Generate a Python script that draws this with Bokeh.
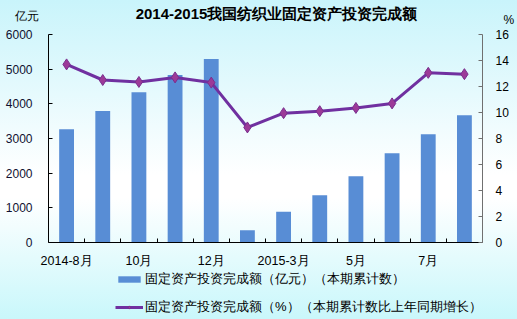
from bokeh.plotting import figure
from bokeh.models import Range1d, LinearAxis, FixedTicker, Legend, LegendItem, Label
from bokeh.embed import file_html
from bokeh.resources import INLINE

# ---- data ----
months = ["2014-8月", "2014-9月", "2014-10月", "2014-11月", "2014-12月", "2015-2月",
          "2015-3月", "2015-4月", "2015-5月", "2015-6月", "2015-7月", "2015-8月"]
invest = [3270, 3790, 4335, 4830, 5290, 355, 885, 1365, 1910, 2575, 3125, 3670]
growth = [13.7, 12.5, 12.35, 12.7, 12.3, 8.85, 9.95, 10.1, 10.35, 10.7, 13.05, 12.95]
tick_idx = [0, 2, 4, 6, 8, 10]
tick_labels = ["2014-8月", "10月", "12月", "2015-3月", "5月", "7月"]
left_ticks = [0, 1000, 2000, 3000, 4000, 5000, 6000]
right_ticks = [0, 2, 4, 6, 8, 10, 12, 14, 16]
title_text = "2014-2015我国纺织业固定资产投资完成额"
bar_label = "固定资产投资完成额（亿元）（本期累计数）"
line_label = "固定资产投资完成额（%）（本期累计数比上年同期增长）"

FONT = "Liberation Sans"
n = len(months)
xs = list(range(n))

# ---- layout (pixels); the frame fills the whole canvas, axes sit at fixed places ----
W, H = 517, 319
AX_LEFT, AX_RIGHT = 48, 482           # pixel columns of the two value axes
AX_TOP, AX_BOTTOM = 34, 242           # pixel rows of the axis maximum and zero
cat_w = (AX_RIGHT - AX_LEFT) / n
axis_h = AX_BOTTOM - AX_TOP
x_lo, x_hi = -0.5, n - 0.5


def ext_range(top):
    return Range1d(-top * (H - AX_BOTTOM) / axis_h, top * (1 + AX_TOP / axis_h))


p = figure(width=W, height=H,
           x_range=Range1d(x_lo - AX_LEFT / cat_w, x_hi + (W - AX_RIGHT) / cat_w),
           y_range=ext_range(left_ticks[-1]), output_backend="svg", toolbar_location=None,
           min_border_left=0, min_border_right=0, min_border_top=0, min_border_bottom=0)
p.extra_y_ranges = {"pct": ext_range(right_ticks[-1])}

p.background_fill_color = None
p.border_fill_color = None
p.outline_line_color = None
p.styles = {"background": "linear-gradient(180deg, #c9f4fb 0%, #ffffff 55%, #ffffff 62%, #c9f7fb 100%)"}
p.xgrid.visible = False
p.ygrid.visible = False

bars = p.vbar(x=xs, top=invest, width=0.41, fill_color="#588dd5", line_color=None)
ln = p.line(x=xs, y=growth, y_range_name="pct", line_color="#7030a0", line_width=3)
pts = p.scatter(x=xs, y=growth, y_range_name="pct", marker="diamond", size=11,
                fill_color="#9c3a98", line_color="#7a2e8e", line_width=1)

# x axis, drawn at value zero
xa = p.xaxis[0]
xa.fixed_location = 0
xa.bounds = (x_lo, x_hi)
xa.ticker = FixedTicker(ticks=tick_idx, minor_ticks=[i + 0.5 for i in range(n - 1)])
xa.major_label_overrides = dict(zip(tick_idx, tick_labels))
xa.major_tick_line_color = None
xa.minor_tick_in = 4
xa.minor_tick_out = 0
xa.minor_tick_line_color = "black"
xa.axis_line_color = "black"
xa.major_label_standoff = 5
xa.major_label_text_font = FONT
xa.major_label_text_font_size = "12.5px"
xa.major_label_text_color = "black"

# left axis
ya = p.yaxis[0]
ya.fixed_location = x_lo
ya.ticker = FixedTicker(ticks=left_ticks)
ya.bounds = (left_ticks[0], left_ticks[-1])
ya.major_tick_in = 4
ya.major_tick_out = 0
ya.minor_tick_line_color = None
ya.axis_line_color = "black"
ya.major_label_standoff = 16
ya.major_label_text_font = FONT
ya.major_label_text_font_size = "12px"
ya.major_label_text_color = "#101030"

# right axis
ra = LinearAxis(y_range_name="pct", ticker=FixedTicker(ticks=right_ticks), fixed_location=x_hi)
ra.bounds = (right_ticks[0], right_ticks[-1])
ra.major_tick_in = 4
ra.major_tick_out = 0
ra.minor_tick_line_color = None
ra.axis_line_color = "#707070"
ra.major_tick_line_color = "#707070"
ra.major_label_standoff = 13
ra.major_label_text_font = FONT
ra.major_label_text_font_size = "12px"
ra.major_label_text_color = "black"
p.add_layout(ra, "right")

# texts (screen units, from the canvas' bottom-left corner)
p.add_layout(Label(x=276, y=H - 12.5, x_units="screen", y_units="screen", text=title_text,
                   text_align="center", text_baseline="middle", text_font=FONT,
                   text_font_style="bold", text_font_size="15px", text_color="black"))
p.add_layout(Label(x=14, y=H - 15.7, x_units="screen", y_units="screen", text="亿元",
                   text_align="left", text_baseline="middle", text_font=FONT,
                   text_font_size="12px", text_color="black"))
p.add_layout(Label(x=503, y=H - 19.5, x_units="screen", y_units="screen", text="%",
                   text_align="left", text_baseline="middle", text_font=FONT,
                   text_font_size="12px", text_color="black"))

legend = Legend(items=[LegendItem(label=bar_label, renderers=[bars]),
                       LegendItem(label=line_label, renderers=[ln, pts])],
                location=(115, 3), orientation="vertical",
                glyph_width=28, glyph_height=8, label_height=13, spacing=10,
                padding=0, margin=0, border_line_color=None,
                background_fill_alpha=0, label_standoff=2,
                label_text_font=FONT, label_text_font_size="13px", label_text_color="black")
p.add_layout(legend, "center")

open("out.html", "w").write(file_html(p, INLINE))
